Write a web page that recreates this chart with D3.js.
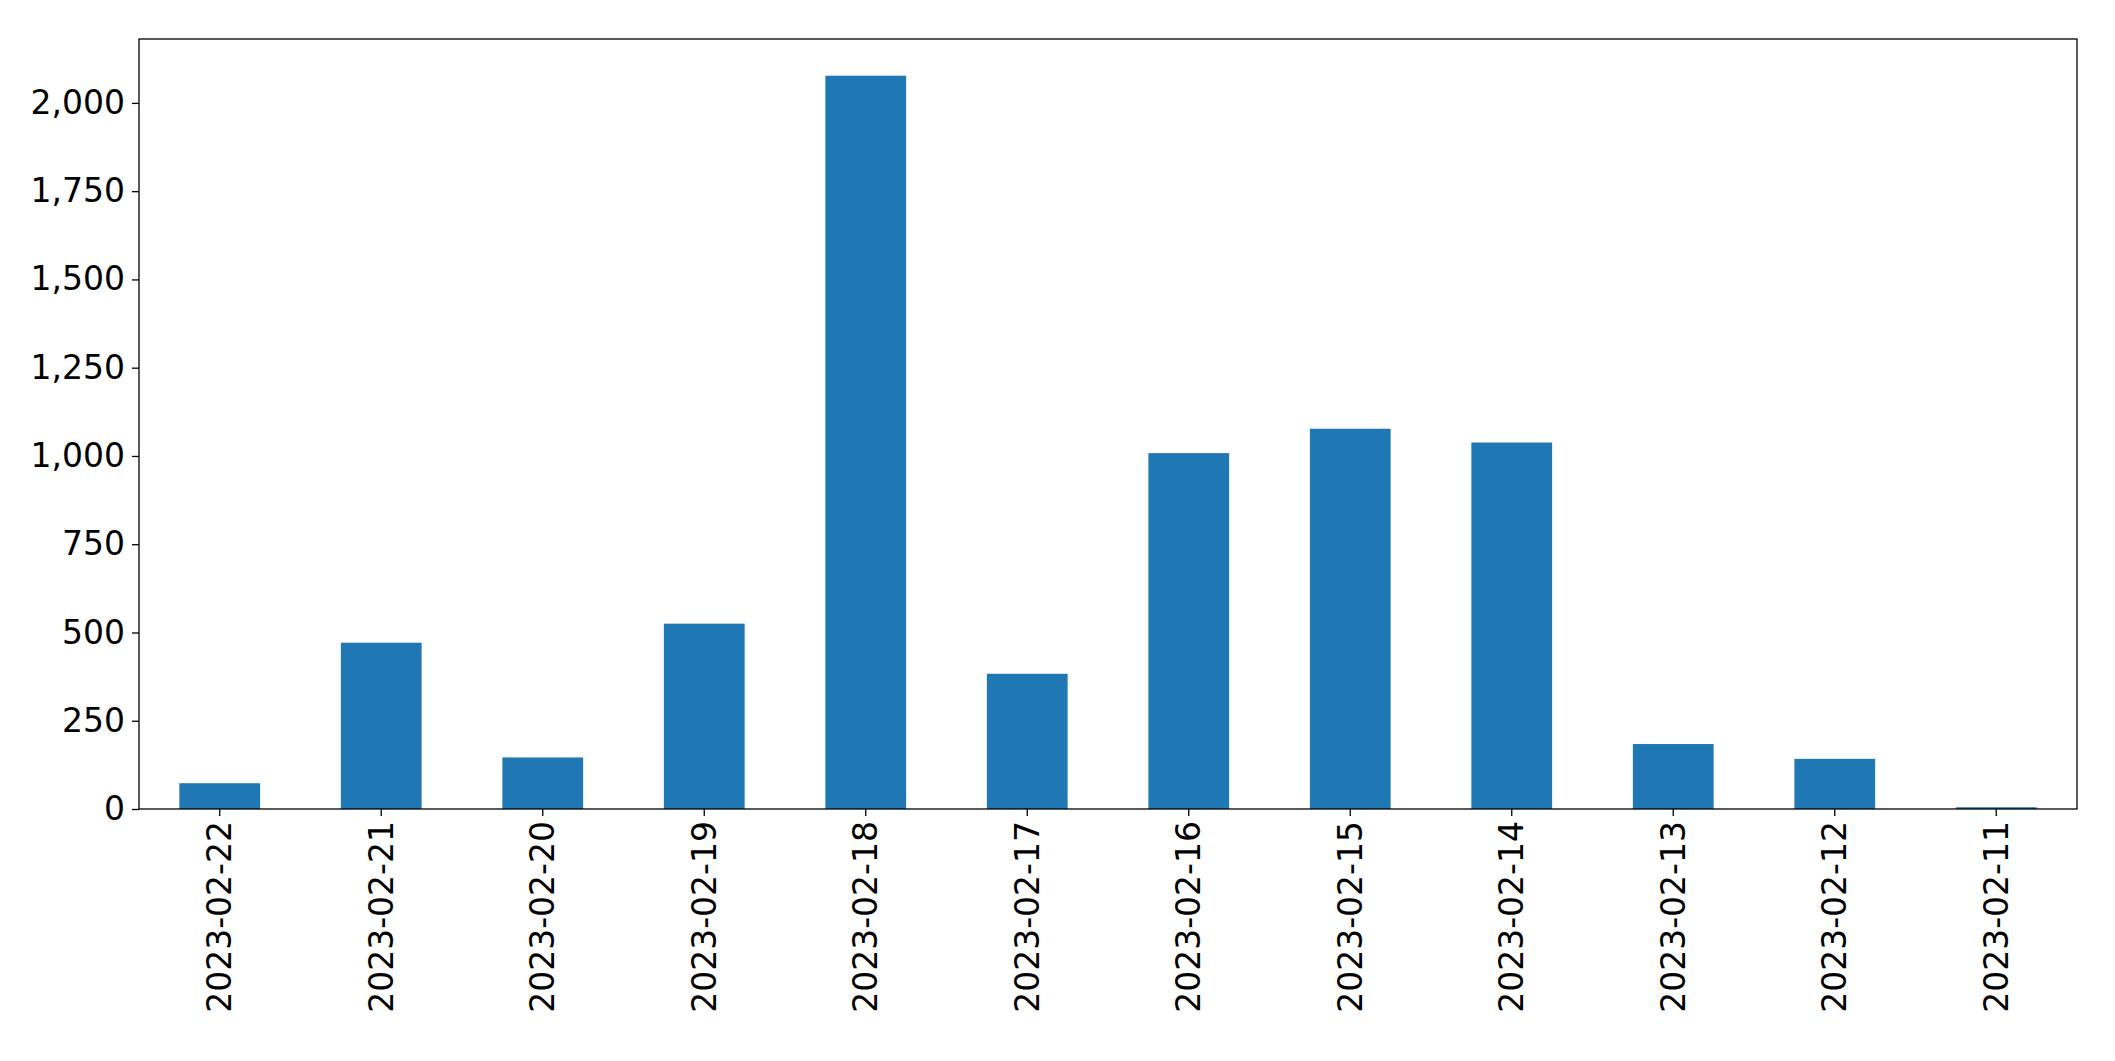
<!DOCTYPE html><html><head><meta charset="utf-8"><script src="https://cdn.jsdelivr.net/npm/d3@7"></script>
<style>body{margin:0;background:#fff}text{font-family:"DejaVu Sans";}</style></head><body>
<svg id="c" width="2115" height="1061"></svg>
<script>
const categories=["2023-02-22","2023-02-21","2023-02-20","2023-02-19","2023-02-18","2023-02-17","2023-02-16","2023-02-15","2023-02-14","2023-02-13","2023-02-12","2023-02-11"];
const values=[73,471,146,525,2077,383,1008,1077,1038,184,142,5];
const yTicks=[0,250,500,750,1000,1250,1500,1750,2000];
const m={l:139,r:2077,t:39,b:809};
const svg=d3.select("#c");
const x=d3.scaleBand().domain(categories).range([m.l,m.r]).paddingInner(0.5).paddingOuter(0.25);
const y=d3.scaleLinear().domain([0,2181]).range([m.b,m.t]);
svg.selectAll("rect.b").data(values).join("rect").attr("class","b")
 .attr("x",(d,i)=>x(categories[i])).attr("width",x.bandwidth())
 .attr("y",d=>y(d)).attr("height",d=>y(0)-y(d)).attr("fill","#1f77b4");
const ya=svg.append("g").attr("transform",`translate(${m.l},0)`).call(d3.axisLeft(y).tickValues(yTicks).tickSize(7).tickPadding(7));
const xa=svg.append("g").attr("transform",`translate(0,${m.b})`).call(d3.axisBottom(x).tickSize(7).tickPadding(0));
[ya,xa].forEach(a=>{a.select(".domain").remove();a.selectAll("line").attr("stroke","#000").attr("stroke-width",1.3);a.selectAll("text").attr("font-size",33).attr("fill","#000").attr("font-family","DejaVu Sans");});
xa.selectAll("text").attr("transform","rotate(-90)").attr("text-anchor","end").attr("dy","0.35em").attr("x",-12).attr("y",0);
svg.append("rect").attr("x",m.l).attr("y",m.t).attr("width",m.r-m.l).attr("height",m.b-m.t).attr("fill","none").attr("stroke","#000").attr("stroke-width",1.3);
</script></body></html>
